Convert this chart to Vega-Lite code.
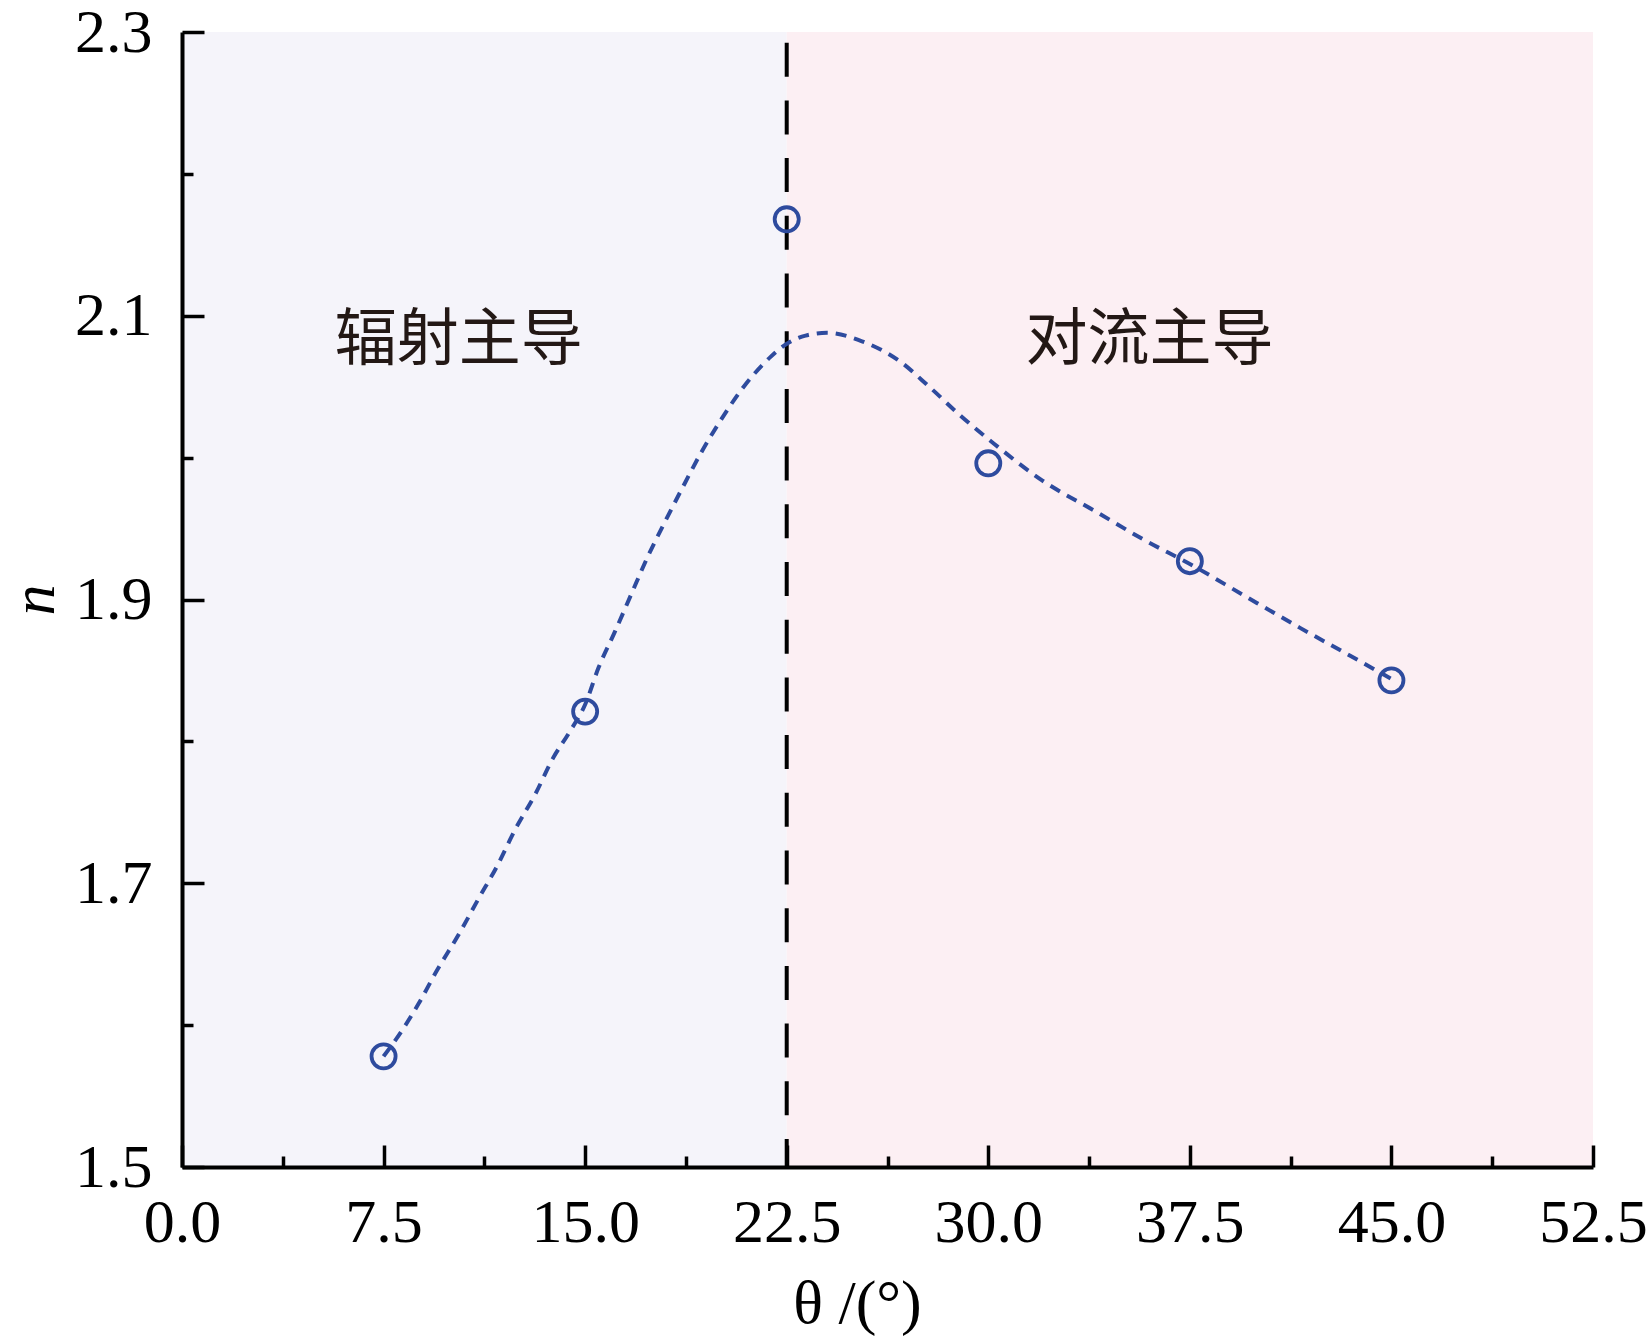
{
  "$schema": "https://vega.github.io/schema/vega-lite/v6.json",
  "width": 1411,
  "height": 1135,
  "autosize": {"type": "none"},
  "padding": {"left": 182, "top": 32, "right": 56, "bottom": 177},
  "background": "white",
  "datasets": {
    "regions": [
      {"region": "辐射主导", "x0": 0, "x1": 22.5, "y0": 1.5, "y1": 2.3},
      {"region": "对流主导", "x0": 22.5, "x1": 52.5, "y0": 1.5, "y1": 2.3}
    ],
    "divider": [{"theta": 22.5}],
    "curve": [
      {"theta": 7.5, "n": 1.578},
      {"theta": 8.0, "n": 1.591},
      {"theta": 8.8, "n": 1.615},
      {"theta": 9.5, "n": 1.639},
      {"theta": 10.3, "n": 1.664},
      {"theta": 11.0, "n": 1.688},
      {"theta": 11.75, "n": 1.713},
      {"theta": 12.4, "n": 1.738},
      {"theta": 13.15, "n": 1.763},
      {"theta": 13.8, "n": 1.788},
      {"theta": 14.4, "n": 1.806},
      {"theta": 15.0, "n": 1.826},
      {"theta": 15.5, "n": 1.852},
      {"theta": 16.1, "n": 1.877},
      {"theta": 16.7, "n": 1.903},
      {"theta": 17.3, "n": 1.929},
      {"theta": 17.95, "n": 1.954},
      {"theta": 18.6, "n": 1.978},
      {"theta": 19.3, "n": 2.003},
      {"theta": 20.1, "n": 2.028},
      {"theta": 20.9, "n": 2.05},
      {"theta": 21.9, "n": 2.071},
      {"theta": 22.4, "n": 2.079},
      {"theta": 23.2, "n": 2.086},
      {"theta": 24.0, "n": 2.088},
      {"theta": 25.3, "n": 2.082},
      {"theta": 26.7, "n": 2.068},
      {"theta": 27.8, "n": 2.05},
      {"theta": 29.0, "n": 2.029},
      {"theta": 30.2, "n": 2.01},
      {"theta": 32.0, "n": 1.984},
      {"theta": 34.0, "n": 1.962},
      {"theta": 35.8, "n": 1.942},
      {"theta": 37.6, "n": 1.924},
      {"theta": 39.5, "n": 1.903},
      {"theta": 41.6, "n": 1.88},
      {"theta": 43.5, "n": 1.86},
      {"theta": 45.0, "n": 1.844}
    ],
    "points": [
      {"theta": 7.5, "n": 1.578},
      {"theta": 15.0, "n": 1.821},
      {"theta": 22.5, "n": 2.168},
      {"theta": 30.0, "n": 1.996},
      {"theta": 37.5, "n": 1.927},
      {"theta": 45.0, "n": 1.843}
    ],
    "labels": [
      {"theta": 10.3, "n": 2.082, "text": "辐射主导"},
      {"theta": 36.0, "n": 2.082, "text": "对流主导"}
    ]
  },
  "layer": [
    {
      "data": {"name": "regions"},
      "mark": {"type": "rect"},
      "encoding": {
        "x": {
          "field": "x0",
          "type": "quantitative",
          "scale": {"domain": [0, 52.5], "nice": false, "zero": false},
          "axis": {
            "zindex": 2,
            "orient": "bottom",
            "values": [0, 7.5, 15, 22.5, 30, 37.5, 45, 52.5],
            "format": ".1f",
            "tickSize": -22,
            "labelPadding": 47,
            "title": "θ /(°)",
            "titlePadding": 20,
            "titleX": 675
          }
        },
        "x2": {"field": "x1"},
        "y": {
          "field": "y0",
          "type": "quantitative",
          "scale": {"domain": [1.5, 2.3], "nice": false, "zero": false},
          "axis": {
            "zindex": 2,
            "orient": "left",
            "values": [1.5, 1.7, 1.9, 2.1, 2.3],
            "format": ".1f",
            "tickSize": -22,
            "labelPadding": 52,
            "title": "n",
            "titleFontStyle": "italic",
            "titlePadding": 8
          }
        },
        "y2": {"field": "y1"},
        "color": {
          "field": "region",
          "type": "nominal",
          "scale": {"domain": ["辐射主导", "对流主导"], "range": ["#F5F4FA", "#FCEFF3"]},
          "legend": null
        }
      }
    },
    {
      "data": {"name": "divider"},
      "mark": {"type": "rule", "color": "black", "strokeWidth": 4, "strokeDash": [34, 23.7], "strokeDashOffset": 47},
      "encoding": {
        "x": {
          "field": "theta",
          "type": "quantitative",
          "axis": {
            "zindex": 2,
            "orient": "bottom",
            "values": [3.75, 11.25, 18.75, 26.25, 33.75, 41.25, 48.75],
            "tickSize": -11,
            "labels": false,
            "domain": false,
            "title": null
          }
        }
      }
    },
    {
      "data": {"name": "curve"},
      "mark": {"type": "line", "color": "#2E4B9E", "strokeWidth": 4, "strokeDash": [11, 8], "interpolate": "monotone"},
      "encoding": {
        "x": {"field": "theta", "type": "quantitative", "axis": null},
        "y": {
          "field": "n",
          "type": "quantitative",
          "axis": {
            "zindex": 2,
            "orient": "left",
            "values": [1.6, 1.8, 2.0, 2.2],
            "tickSize": -11,
            "labels": false,
            "domain": false,
            "title": null
          }
        }
      }
    },
    {
      "data": {"name": "points"},
      "mark": {"type": "point", "shape": "circle", "filled": false, "size": 580, "strokeWidth": 3.8, "color": "#2E4B9E", "opacity": 1},
      "encoding": {
        "x": {"field": "theta", "type": "quantitative", "axis": null},
        "y": {"field": "n", "type": "quantitative", "axis": null}
      }
    },
    {
      "data": {"name": "labels"},
      "mark": {"type": "text", "font": "Noto Sans CJK SC", "fontSize": 62, "color": "#231815", "align": "center", "baseline": "middle"},
      "encoding": {
        "x": {"field": "theta", "type": "quantitative", "axis": null},
        "y": {"field": "n", "type": "quantitative", "axis": null},
        "text": {"field": "text"}
      }
    }
  ],
  "resolve": {"axis": {"x": "independent", "y": "independent"}},
  "config": {
    "view": {"stroke": null},
    "axis": {
      "grid": false,
      "domainColor": "black",
      "domainWidth": 4,
      "tickColor": "black",
      "tickWidth": 3.5,
      "labelFont": "Liberation Serif",
      "labelFontSize": 62,
      "labelColor": "black",
      "labelFlush": false,
      "labelOverlap": false,
      "titleFont": "Liberation Serif",
      "titleFontSize": 62,
      "titleFontWeight": "normal",
      "titleColor": "black"
    }
  }
}
